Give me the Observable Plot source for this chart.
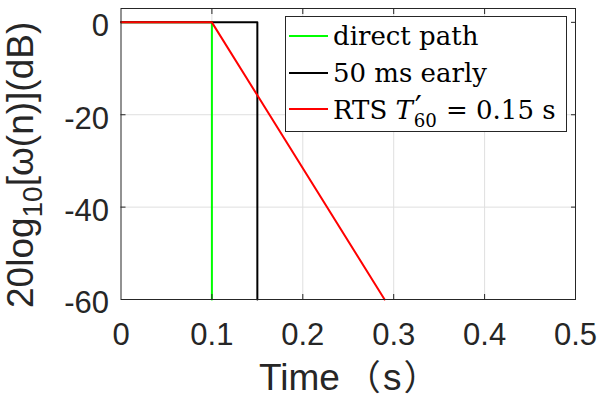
<!DOCTYPE html>
<html><head><meta charset="utf-8">
<script src="https://cdn.jsdelivr.net/npm/d3@7"></script>
<script src="https://cdn.jsdelivr.net/npm/@observablehq/plot@0.6"></script>
<style>
body{margin:0;background:#fff;}
#wrap{position:relative;width:600px;height:400px;overflow:hidden;}
#legend{position:absolute;left:285px;top:16px;width:280px;height:114px;border:1px solid #262626;background:#fff;font-family:"DejaVu Serif",serif;font-size:26px;color:#000;box-sizing:content-box;}
.row{display:flex;align-items:center;height:36.5px;white-space:nowrap;}
.row:first-child{margin-top:1px;}
.sw{width:39px;height:2px;margin-left:3px;margin-right:5px;flex:none;}
.pr{position:relative;top:-0.04em;font-size:1.2em;margin-left:0.06em;line-height:1;}
.sb{position:relative;top:0.4em;font-size:0.7em;margin-left:-0.45em;margin-right:0.05em;line-height:1;}
</style></head><body><div id="wrap"></div>
<script>
const seriesNames = ["direct path", "50 ms early", "RTS"];
const seriesColors = ["#00ff00", "#000000", "#ff0000"];
const tDirect = [0, 0.1, 0.1];
const dbDirect = [0, 0, -60];
const tEarly = [0, 0.15, 0.15];
const dbEarly = [0, 0, -60];
const tRts = [0, 0.1, 0.29];
const dbRts = [0, 0, -60];
const xTicks = [0, 0.1, 0.2, 0.3, 0.4, 0.5];
const yTicks = [-60, -40, -20, 0];
const xDomain = [0, 0.5];
const yDomain = [-60, 3];

const rows = [];
[[tDirect, dbDirect], [tEarly, dbEarly], [tRts, dbRts]].forEach(([ts, ds], i) => {
  ts.forEach((t, j) => rows.push({series: seriesNames[i], t, db: ds[j]}));
});

const W = 600, H = 400;
const mL = 120.5, mR = 25, mT = 8, mB = 101;
const axisColor = "#262626";
const tickFont = "Liberation Sans, Arial, sans-serif";

const chart = Plot.plot({
  width: W, height: H,
  marginLeft: mL, marginRight: mR, marginTop: mT, marginBottom: mB,
  style: {fontFamily: tickFont, background: "#fff", color: axisColor, overflow: "visible"},
  x: {domain: xDomain, ticks: xTicks},
  y: {domain: yDomain, ticks: yTicks},
  color: {domain: seriesNames, range: seriesColors},
  marks: [
    Plot.gridX(xTicks.slice(1, -1), {stroke: "#dfdfdf", strokeOpacity: 1}),
    Plot.gridY(yTicks.slice(1, -1), {stroke: "#dfdfdf", strokeOpacity: 1}),
    Plot.line(rows, {x: "t", y: "db", z: "series", stroke: "series", strokeWidth: 2}),
    Plot.frame({stroke: axisColor, strokeWidth: 1}),
    Plot.axisX(xTicks, {anchor: "bottom", tickSize: 0, tickPadding: 23, fontSize: 31, label: null, tickFormat: d => String(d)}),
    Plot.axisY(yTicks, {anchor: "left", tickSize: 0, tickPadding: 12, fontSize: 31, dy: 4, label: null, tickFormat: d => String(d)}),
    Plot.axisX(xTicks.slice(1, -1), {anchor: "bottom", tickSize: -5, tickFormat: () => "", label: null, stroke: axisColor}),
    Plot.axisX(xTicks.slice(1, -1), {anchor: "top", tickSize: -5, tickFormat: () => "", label: null, stroke: axisColor}),
    Plot.axisY(yTicks.slice(1, -1), {anchor: "left", tickSize: -5, tickFormat: () => "", label: null, stroke: axisColor}),
    Plot.axisY(yTicks.slice(1), {anchor: "right", tickSize: -5, tickFormat: () => "", label: null, stroke: axisColor})
  ]
});

const wrap = document.getElementById("wrap");
wrap.appendChild(chart);

const svg = d3.select(chart);

const xl = svg.append("text")
  .attr("x", 259).attr("y", 390)
  .attr("text-anchor", "start")
  .attr("fill", axisColor)
  .style("font-family", "Liberation Sans, Arial, sans-serif")
  .style("font-size", "37px");
xl.append("tspan").text("Time");
xl.append("tspan").attr("dx", 6).style("font-family", "'Noto Sans CJK SC', sans-serif").style("font-size", "35px").text("（");
xl.append("tspan").attr("dx", 2).text("s");
xl.append("tspan").attr("dx", 2).style("font-family", "'Noto Sans CJK SC', sans-serif").style("font-size", "35px").text("）");

const yl = svg.append("text")
  .attr("transform", `translate(33,308) rotate(-90)`)
  .attr("text-anchor", "start")
  .attr("fill", axisColor)
  .style("font-family", "Liberation Sans, Arial, sans-serif")
  .style("font-size", "37px");
yl.append("tspan").text("20log");
yl.append("tspan").attr("dy", 9).style("font-size", "28px").text("10");
yl.append("tspan").attr("dy", -9).text("[ω(n)](dB)");

// legend
const legend = document.createElement("div");
legend.id = "legend";
const labelsHtml = [
  "direct path",
  "50 ms early",
  'RTS <i>T</i><span class="pr">′</span><span class="sb">60</span> = 0.15 s'
];
seriesNames.forEach((n, i) => {
  const r = document.createElement("div");
  r.className = "row";
  r.innerHTML = `<div class="sw" style="background:${seriesColors[i]}"></div><span>${labelsHtml[i]}</span>`;
  legend.appendChild(r);
});
wrap.appendChild(legend);
</script>
</body></html>
